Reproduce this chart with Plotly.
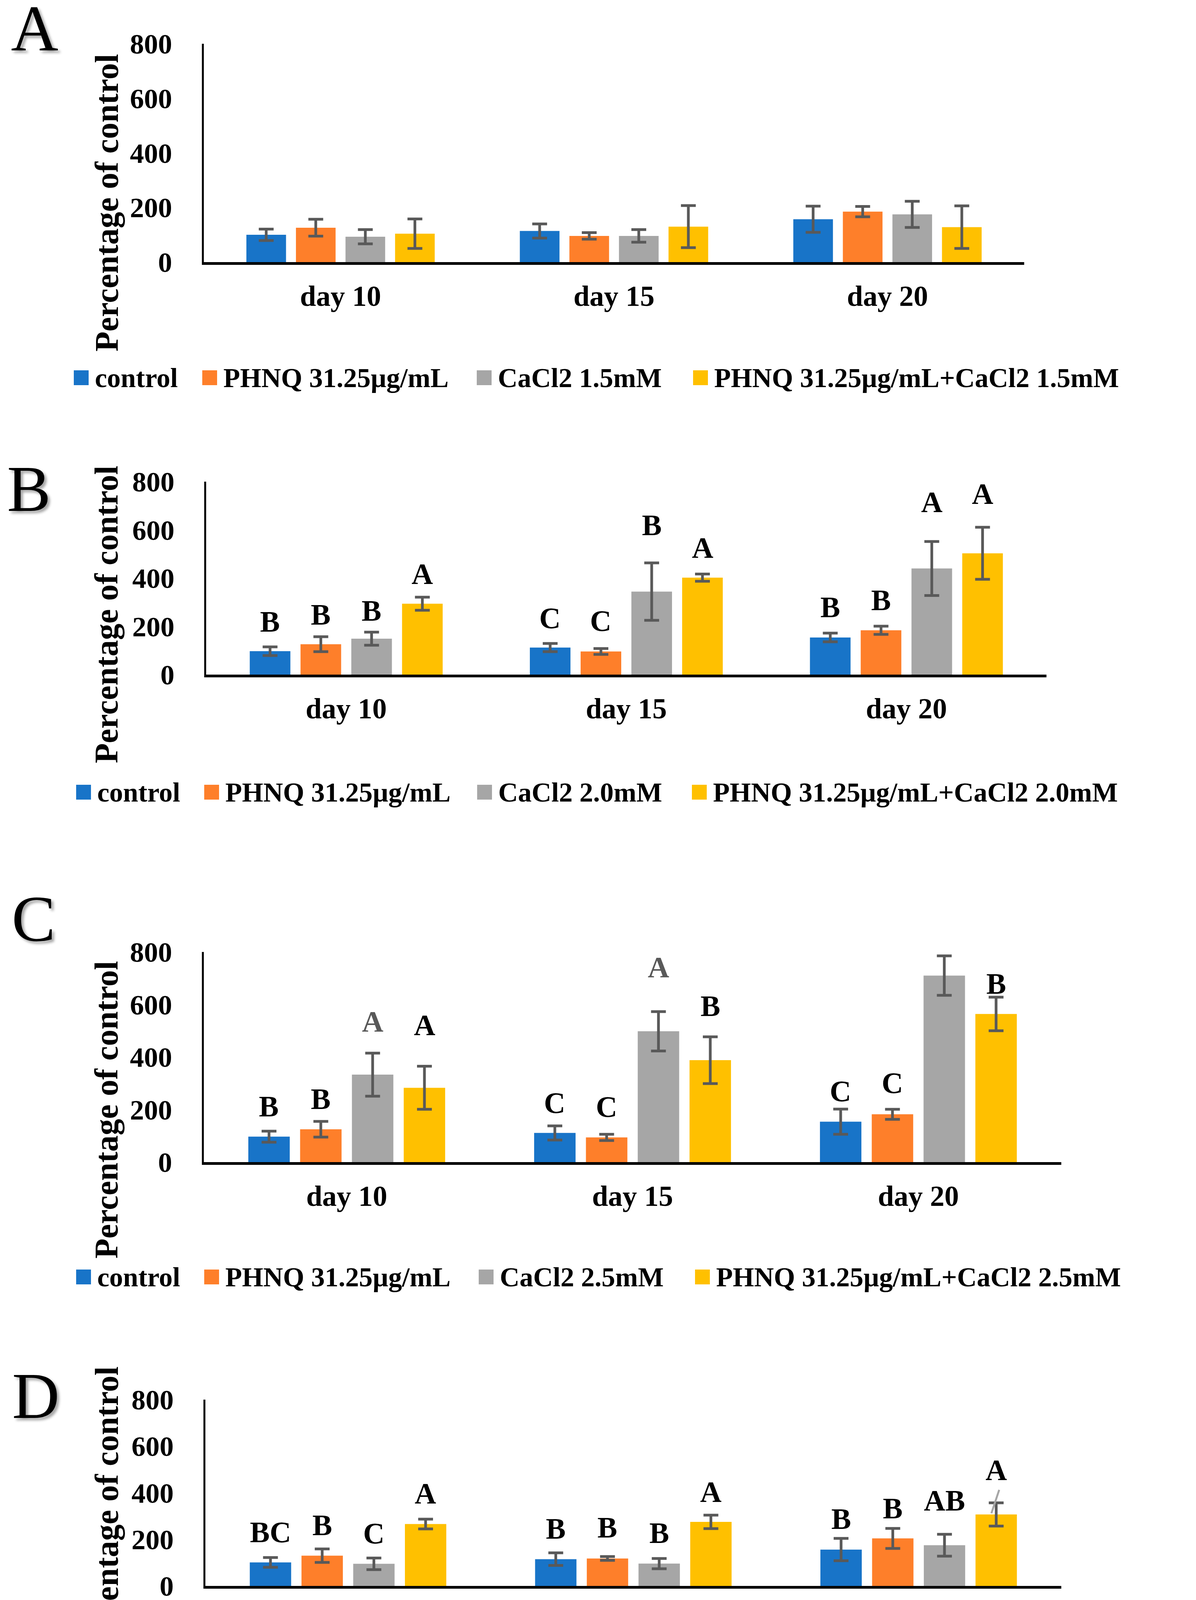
import plotly.graph_objects as go

W, H = 3063, 5464
FONT = "Liberation Serif"

days = ["day 10", "day 15", "day 20"]

# ---- A: PHNQ 31.25 + CaCl2 1.5mM ----
A_names = ["control", "PHNQ 31.25µg/mL", "CaCl2 1.5mM", "PHNQ 31.25µg/mL+CaCl2 1.5mM"]
A_means = [[100, 114, 157], [126, 96, 185], [93, 96, 175], [104, 130, 128]]
A_errs = [[21, 26, 48], [31, 12, 19], [26, 23, 48], [54, 77, 78]]

# ---- B: PHNQ 31.25 + CaCl2 2.0mM ----
B_names = ["control", "PHNQ 31.25µg/mL", "CaCl2 2.0mM", "PHNQ 31.25µg/mL+CaCl2 2.0mM"]
B_means = [[97, 112, 154], [126, 96, 184], [149, 344, 440], [294, 402, 503]]
B_errs = [[18, 17, 18], [31, 12, 17], [27, 119, 112], [27, 15, 108]]
B_letters = [["B", "C", "B"], ["B", "C", "B"], ["B", "B", "A"], ["A", "A", "A"]]
B_letter_y = [[220, 235, 280], [249, 223, 310], [266, 620, 715], [418, 526, 750]]

# ---- C: PHNQ 31.25 + CaCl2 2.5mM ----
C_names = ["control", "PHNQ 31.25µg/mL", "CaCl2 2.5mM", "PHNQ 31.25µg/mL+CaCl2 2.5mM"]
C_means = [[97, 111, 154], [125, 94, 182], [333, 498, 710], [283, 388, 564]]
C_errs = [[21, 27, 48], [30, 12, 19], [82, 75, 75], [82, 89, 64]]
C_letters = [["B", "C", "C"], ["B", "C", "C"], ["A", "A", "A"], ["A", "B", "B"]]
C_letter_y = [[213, 226, 270], [241, 211, 302], [535, 742, 910], [522, 595, 679]]

# ---- D: PHNQ 15.625 + CaCl2 1.5mM ----
D_names = ["control", "PHNQ 15.625µg/mL", "CaCl2 1.5mM", "PHNQ 15.625µg/mL+CaCl2 1.5mM"]
D_means = [[101, 115, 156], [130, 118, 204], [95, 96, 175], [266, 275, 307]]
D_errs = [[21, 27, 48], [29, 8, 43], [25, 22, 47], [21, 29, 50]]
D_letters = [["BC", "B", "B"], ["B", "B", "B"], ["C", "B", "AB"], ["A", "A", "A"]]
D_letter_y = [[232, 246, 289], [262, 252, 333], [226, 228, 368], [398, 404, 498]]

# ---- E: PHNQ 15.625 + CaCl2 2.0mM ----
E_names = ["control", "PHNQ 15.625µg/mL", "CaCl2 2.0mM", "PHNQ 15.625µg/mL+CaCl2 2.0mM"]
E_means = [[98, 112, 154], [127, 115, 201], [147, 344, 440], [188, 228, 333]]
E_errs = [[21, 27, 48], [30, 9, 43], [27, 118, 113], [43, 30, 50]]
E_letters = [["C", "C", "B"], ["BC", "C", "B"], ["AB", "A", "A"], ["A", "B", "A"]]
E_letter_y = [[228, 243, 412], [258, 246, 418], [278, 678, 755], [317, 355, 554]]

BLUE = "#1874C8"
BLUE_E = "#1D9BD7"
ORANGE = "#FE7F2A"
GRAY = "#A6A6A6"
YELLOW = "#FFC000"
ERR = "#595959"

# layout of each panel in page pixels
panels = [
    dict(tag="A", names=A_names, means=A_means, errs=A_errs, letters=None, letter_y=None,
         colors=[BLUE, ORANGE, GRAY, YELLOW], box=(514, 2615, 104, 663), title_y=511,
         tag_xy=(80, 64), legend_y=959, legend_x=[181, 510, 1213, 1767]),
    dict(tag="B", names=B_names, means=B_means, errs=B_errs, letters=B_letters, letter_y=B_letter_y,
         colors=[BLUE, ORANGE, GRAY, YELLOW], box=(520, 2672, 1225, 1719), title_y=1565,
         tag_xy=(66, 1243), legend_y=2020, legend_x=[187, 515, 1214, 1764]),
    dict(tag="C", names=C_names, means=C_means, errs=C_errs, letters=C_letters, letter_y=C_letter_y,
         colors=[BLUE, ORANGE, GRAY, YELLOW], box=(514, 2710, 2429, 2967), title_y=2833,
         tag_xy=(78, 2343), legend_y=3261, legend_x=[187, 515, 1218, 1772],
         letter_colors=["black", "black", ERR, "black"]),
    dict(tag="D", names=D_names, means=D_means, errs=D_errs, letters=D_letters, letter_y=D_letter_y,
         colors=[BLUE, ORANGE, GRAY, YELLOW], box=(518, 2710, 3575, 4052), title_y=3871,
         tag_xy=(83, 3565), legend_y=4323, legend_x=[177, 520, 1287, 1852]),
    dict(tag="E", names=E_names, means=E_means, errs=E_errs, letters=E_letters, letter_y=E_letter_y,
         colors=[BLUE_E, ORANGE, GRAY, YELLOW], box=(516, 2720, 4669, 5145), title_y=4963,
         tag_xy=(79, 4644), legend_y=5404, legend_x=[104, 448, 1218, 1778]),
]

BARGAP = 0.275
slot = (1 - BARGAP) / 4


def px_x(v):
    return v / W


def px_y(v):
    return 1 - v / H


fig = go.Figure()
annotations = []
shapes = []

for n, p in enumerate(panels, start=1):
    xa = "x" if n == 1 else f"x{n}"
    ya = "y" if n == 1 else f"y{n}"

    for k in range(4):
        fig.add_trace(go.Bar(
            x=days, y=p["means"][k], name=p["names"][k],
            marker=dict(color=p["colors"][k], line=dict(width=0)),
            error_y=dict(type="data", array=p["errs"][k], color=ERR, thickness=7, width=19),
            xaxis=xa, yaxis=ya, showlegend=False,
        ))

    x0, x1, yt, yb = p["box"]
    fig.update_layout(**{
        ("xaxis" if n == 1 else f"xaxis{n}"): dict(
            domain=[px_x(x0), px_x(x1)], anchor=ya, type="category", automargin=False,
            range=[-0.5, 2.5], showline=True, linecolor="black", linewidth=7,
            ticks="", ticklen=0, showgrid=False, ticklabelstandoff=16,
            tickfont=dict(family=FONT, size=74, color="black", weight="bold"),
        ),
        ("yaxis" if n == 1 else f"yaxis{n}"): dict(
            domain=[px_y(yb), px_y(yt)], anchor=xa, range=[0, 800], dtick=200,
            automargin=False,
            showline=True, linecolor="black", linewidth=4.5, ticks="", ticklen=0,
            showgrid=False, zeroline=False, ticklabelstandoff=62,
            tickfont=dict(family=FONT, size=72, color="black", weight="bold"),
        ),
    })

    # significance letters
    if p["letters"]:
        lcols = p.get("letter_colors", ["black"] * 4)
        for k in range(4):
            for i in range(3):
                annotations.append(dict(
                    x=i + (k - 1.5) * slot, y=p["letter_y"][k][i], xref=xa, yref=ya,
                    text=p["letters"][k][i], showarrow=False, xanchor="center", yanchor="middle",
                    font=dict(family=FONT, size=76, color=lcols[k], weight="bold"),
                ))

    # y-axis title
    annotations.append(dict(
        x=px_x(265), y=px_y(p["title_y"]), xref="paper", yref="paper",
        text="Percentage of control", textangle=-90, showarrow=False,
        xanchor="center", yanchor="middle",
        font=dict(family=FONT, size=84, color="black", weight="bold"),
    ))

    # panel tag
    tx, ty = p["tag_xy"]
    annotations.append(dict(
        x=px_x(tx), y=px_y(ty), xref="paper", yref="paper", text=p["tag"],
        showarrow=False, xanchor="center", yanchor="middle",
        font=dict(family=FONT, size=168, color="black",
                  shadow="6px 6px 6px rgba(0,0,0,0.35)"),
    ))

    # legend row
    ly = p["legend_y"]
    for k in range(4):
        sx = p["legend_x"][k]
        shapes.append(dict(
            type="rect", xref="paper", yref="paper",
            x0=px_x(sx), x1=px_x(sx + 38), y0=px_y(ly + 19), y1=px_y(ly - 19),
            fillcolor=p["colors"][k], line=dict(width=0),
        ))
        annotations.append(dict(
            x=px_x(sx + 52), y=px_y(ly), xref="paper", yref="paper",
            text=p["names"][k], showarrow=False, xanchor="left", yanchor="middle",
            font=dict(family=FONT, size=70, color="black", weight="bold"),
        ))

# stray gray stroke next to the last error bar in panel D
shapes.append(dict(
    type="line", xref="paper", yref="paper",
    x0=px_x(2551), y0=px_y(3806), x1=px_x(2531), y1=px_y(3866),
    line=dict(color=GRAY, width=5),
))

fig.update_layout(
    template="none",
    width=W, height=H, autosize=False,
    margin=dict(l=0, r=0, t=0, b=0, pad=0),
    paper_bgcolor="white", plot_bgcolor="white",
    barmode="group", bargap=BARGAP, bargroupgap=0.2,
    annotations=annotations, shapes=shapes,
    font=dict(family=FONT, color="black"),
    showlegend=False,
)

fig.write_html("out.html", config={"responsive": False})
